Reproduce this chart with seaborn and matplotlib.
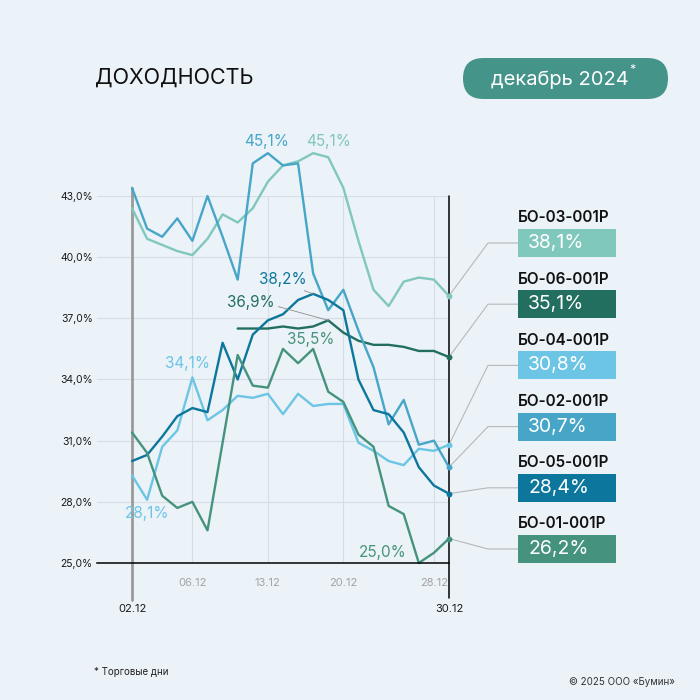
"""
Доходность облигаций БО-0x-001P, декабрь 2024 (торговые дни)
"""
import numpy as np
import pandas as pd
import matplotlib
matplotlib.use("Agg")
import matplotlib.pyplot as plt
import seaborn as sns
from matplotlib.patches import FancyBboxPatch, Rectangle

nan = np.nan

dates = ["02.12", "03.12", "04.12", "05.12", "06.12", "09.12", "10.12", "11.12",
         "12.12", "13.12", "16.12", "17.12", "18.12", "19.12", "20.12", "23.12",
         "24.12", "25.12", "26.12", "27.12", "28.12", "30.12"]

bo03 = [42.4, 40.9, 40.6, 40.3, 40.1, 40.9, 42.1, 41.7, 42.4, 43.7, 44.5,
        44.7, 45.1, 44.9, 43.4, 40.8, 38.4, 37.6, 38.8, 39.0, 38.9, 38.1]
bo06 = [nan, nan, nan, nan, nan, nan, nan, 36.5, 36.5, 36.5, 36.6,
        36.5, 36.6, 36.9, 36.3, 35.9, 35.7, 35.7, 35.6, 35.4, 35.4, 35.1]
bo04 = [29.3, 28.1, 30.7, 31.5, 34.1, 32.0, 32.5, 33.2, 33.1, 33.3, 32.3,
        33.3, 32.7, 32.8, 32.8, 30.9, 30.5, 30.0, 29.8, 30.6, 30.5, 30.8]
bo02 = [43.4, 41.4, 41.0, 41.9, 40.8, 43.0, 41.0, 38.9, 44.6, 45.1, 44.5,
        44.6, 39.2, 37.4, 38.4, 36.4, 34.6, 31.8, 33.0, 30.8, 31.0, 29.7]
bo05 = [30.0, 30.3, 31.2, 32.2, 32.6, 32.4, 35.8, 34.0, 36.2, 36.9, 37.2,
        37.9, 38.2, 37.9, 37.4, 34.0, 32.5, 32.3, 31.4, 29.7, 28.8, 28.4]
bo01 = [31.4, 30.4, 28.3, 27.7, 28.0, 26.6, 30.9, 35.2, 33.7, 33.6, 35.5,
        34.8, 35.5, 33.4, 32.9, 31.3, 30.7, 27.8, 27.4, 25.0, 25.5, 26.2]

names = ["БО-03-001P", "БО-06-001P", "БО-04-001P", "БО-02-001P", "БО-05-001P", "БО-01-001P"]
series = [bo03, bo06, bo04, bo02, bo05, bo01]
box_labels = ["38,1%", "35,1%", "30,8%", "30,7%", "28,4%", "26,2%"]
colors = ["#80C7BC", "#226F5F", "#6CC5E4", "#47A6C8", "#0C769C", "#45937F"]

# подписи на графике: (ряд, индекс дня, текст)
callouts = [("БО-02-001P", 9, "45,1%"), ("БО-03-001P", 12, "45,1%"),
            ("БО-05-001P", 12, "38,2%"), ("БО-06-001P", 13, "36,9%"),
            ("БО-01-001P", 12, "35,5%"), ("БО-04-001P", 4, "34,1%"),
            ("БО-04-001P", 1, "28,1%"), ("БО-01-001P", 19, "25,0%")]
callout_offsets = [(-1, 12), (15, 12), (-30, 14), (-77, 18),
                   (-2, 9), (-5, 14), (0, -14), (-36, 10)]
callout_leader = [False, False, True, True, False, False, False, False]

BG = "#EBF2F8"
GRID = "#D6DDE4"

rows = []
for name, vals in zip(names, series):
    for i, v in enumerate(vals):
        rows.append({"day": i, "value": v, "bond": name})
df = pd.DataFrame(rows).dropna()
palette = dict(zip(names, colors))

sns.set_theme(style="white")
plt.rcParams["font.family"] = ["Inter", "DejaVu Sans"]

fig = plt.figure(figsize=(7, 7), dpi=100, facecolor=BG)
ax = fig.add_axes([97 / 700, 137 / 700, 352 / 700, 367 / 700])
ax.set_facecolor(BG)

sns.lineplot(data=df, x="day", y="value", hue="bond", palette=palette,
             hue_order=names, linewidth=1.7, legend=False, ax=ax)
for line in ax.lines:
    line.set_clip_on(False)

ax.set_xlim(-2.32, 21)
ax.set_ylim(25, 43)
yt = list(range(25, 44, 3))
ax.set_yticks(yt)
ax.set_yticklabels([f"{v},0%" for v in yt])
major = [4, 9, 14, 20]
ax.set_xticks(major)
ax.set_xticklabels([dates[i] for i in major])
ax.set_xticks(range(len(dates)), minor=True)
ax.set_xlabel("")
ax.set_ylabel("")
ax.grid(axis="y", color=GRID, lw=0.8)
ax.grid(axis="x", which="major", color=GRID, lw=0.8)
ax.set_axisbelow(True)
ax.tick_params(axis="y", length=0, pad=3, labelsize=7.5, labelcolor="#1A1A1A")
ax.tick_params(axis="x", which="major", length=8, width=1.4, color="#BDBDBD",
               pad=3, labelsize=8, labelcolor="#A3A3A3")
ax.tick_params(axis="x", which="minor", length=4, width=0.8, color="#C9C9C9")
for s in ["left", "top", "right"]:
    ax.spines[s].set_visible(False)
ax.spines["bottom"].set_color("black")
ax.spines["bottom"].set_linewidth(1.1)

# первый и последний день
ax.plot([0, 0], [23.2, max(v[0] for v in series if not np.isnan(v[0]))],
        color="#9A9A9A", lw=2, clip_on=False, zorder=1)
ax.plot([21, 21], [23.3, 43], color="black", lw=1.1, clip_on=False, zorder=1)
ax.text(0, 22.75, dates[0], ha="center", va="center", fontsize=8, color="#1A1A1A")
ax.text(21, 22.75, dates[-1], ha="center", va="center", fontsize=8, color="#1A1A1A")

# подписи экстремумов
for (name, i, txt), (dx, dy), lead in zip(callouts, callout_offsets, callout_leader):
    v = series[names.index(name)][i]
    arrow = None
    if lead:
        arrow = dict(arrowstyle="-", color="#8C8C8C", lw=0.6, shrinkA=0, shrinkB=0,
                     relpos=(0.75, 0.0) if dx > -50 else (1.03, 0.25))
    ax.annotate(txt, xy=(i, v), xytext=(dx, dy), textcoords="offset pixels",
                ha="center", va="center", fontsize=11, color=palette[name],
                arrowprops=arrow, annotation_clip=False)

# легенда справа с последними значениями
inv = ax.transData.inverted()
for k, (name, vals, lbl, col) in enumerate(zip(names, series, box_labels, colors)):
    yc = 243 + 61.2 * k
    last = vals[-1]
    ax.scatter([21], [last], s=18, color=col, zorder=6, clip_on=False, linewidths=0)
    p1 = inv.transform((488, 700 - yc))
    p2 = inv.transform((518, 700 - yc))
    ax.plot([21, p1[0], p2[0]], [last, p1[1], p2[1]], color="#B8B8B8", lw=0.8,
            clip_on=False, zorder=0)
    fig.text(518 / 700, 1 - (yc - 25) / 700, name, fontsize=11, fontweight="semibold",
             va="center", ha="left", color="#111111")
    fig.add_artist(Rectangle((518 / 700, 1 - (yc + 14) / 700), 98 / 700, 28 / 700,
                             transform=fig.transFigure, facecolor=col, edgecolor="none"))
    fig.text(528 / 700, 1 - yc / 700, lbl, fontsize=14, color="white",
             va="center", ha="left")

# заголовок и плашка
fig.text(95 / 700, 1 - 78 / 700, "ДОХОДНОСТЬ", fontsize=15.5, va="center", ha="left",
         color="#111111")
pill = FancyBboxPatch((463 / 700, 1 - 99 / 700), 205 / 700, 41 / 700,
                      boxstyle=f"round,pad=0,rounding_size={20.5 / 700}",
                      transform=fig.transFigure, facecolor="#45948A", edgecolor="none")
fig.add_artist(pill)
fig.text(560 / 700, 1 - 80 / 700, "декабрь 2024", fontsize=14.5, color="white",
         va="center", ha="center")
fig.text(632 / 700, 1 - 70 / 700, "*", fontsize=9, color="white", va="center", ha="center")

# сноски
fig.text(94 / 700, 1 - 672 / 700, "* Торговые дни", fontsize=7, va="center", ha="left",
         color="#222222")
fig.text(675 / 700, 1 - 682 / 700, "© 2025 ООО «Бумин»", fontsize=7, va="center",
         ha="right", color="#333333")

fig.savefig("out.png", dpi=100, facecolor=BG)
